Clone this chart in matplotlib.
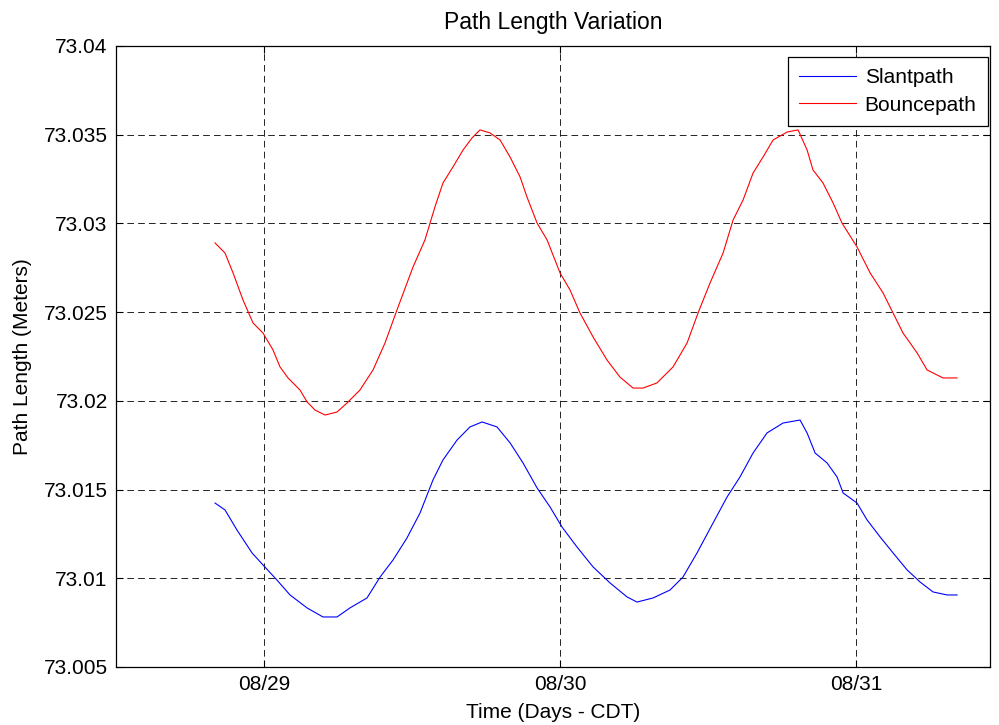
import matplotlib
matplotlib.use("Agg")
import matplotlib.pyplot as plt
import matplotlib.dates as mdates
import pandas as pd

# hours relative to 08/29 00:00 (CDT), values in meters
T0 = pd.Timestamp("2010-08-29 00:00")

bounce_hours = [-3.97, -3.16, -2.51, -1.70, -0.89, -0.08, 0.73, 1.30, 1.95, 2.92,
                3.49, 4.14, 4.95, 5.92, 6.73, 7.78, 8.84, 9.81, 10.78, 12.08,
                13.05, 13.86, 14.51, 15.32, 16.14, 16.86, 17.51, 18.32, 19.14, 19.95,
                20.76, 21.32, 22.14, 22.95, 24.00, 24.81, 25.62, 26.68, 27.81, 28.86,
                29.92, 30.73, 31.86, 33.16, 34.30, 35.19, 36.16, 37.22, 38.03, 38.84,
                39.65, 40.46, 41.27, 42.41, 43.30, 44.03, 44.51, 45.32, 46.14, 46.86,
                48.08, 49.14, 50.19, 51.00, 51.81, 52.95, 53.76, 55.05, 56.19]
bounce_len = [73.02890, 73.02833, 73.02721, 73.02568, 73.02439, 73.02382, 73.02287, 73.02191, 73.02129, 73.02061,
              73.01994, 73.01948, 73.01920, 73.01937, 73.01988, 73.02061, 73.02174, 73.02326, 73.02512, 73.02754,
              73.02907, 73.03093, 73.03228, 73.03318, 73.03414, 73.03481, 73.03527, 73.03510, 73.03470, 73.03374,
              73.03262, 73.03149, 73.03002, 73.02907, 73.02721, 73.02625, 73.02495, 73.02360, 73.02230, 73.02134,
              73.02072, 73.02072, 73.02101, 73.02191, 73.02326, 73.02495, 73.02664, 73.02833, 73.03019, 73.03132,
              73.03284, 73.03374, 73.03470, 73.03515, 73.03527, 73.03414, 73.03301, 73.03228, 73.03115, 73.03002,
              73.02867, 73.02721, 73.02608, 73.02495, 73.02382, 73.02270, 73.02174, 73.02129, 73.02129]

slant_hours = [-3.97, -3.16, -2.19, -0.97, -0.08, 1.05, 2.11, 3.49, 4.78, 5.92,
               6.97, 8.35, 9.41, 10.46, 11.59, 12.65, 13.70, 14.51, 15.65, 16.70,
               17.68, 18.89, 19.95, 21.00, 22.14, 23.19, 24.16, 25.38, 26.68, 28.05,
               29.43, 30.24, 31.54, 32.92, 33.97, 35.11, 36.41, 37.54, 38.59, 39.65,
               40.78, 42.08, 43.46, 44.03, 44.68, 45.65, 46.46, 46.95, 48.08, 48.89,
               49.95, 51.00, 52.14, 53.19, 54.24, 55.38, 56.19]
slant_len = [73.01424, 73.01385, 73.01272, 73.01143, 73.01075, 73.00990, 73.00906, 73.00833, 73.00782, 73.00782,
             73.00833, 73.00889, 73.01007, 73.01103, 73.01227, 73.01368, 73.01554, 73.01667, 73.01779, 73.01853,
             73.01881, 73.01853, 73.01763, 73.01650, 73.01509, 73.01402, 73.01289, 73.01176, 73.01064, 73.00974,
             73.00895, 73.00866, 73.00889, 73.00934, 73.01007, 73.01143, 73.01312, 73.01458, 73.01571, 73.01706,
             73.01819, 73.01875, 73.01892, 73.01819, 73.01706, 73.01650, 73.01571, 73.01481, 73.01424, 73.01329,
             73.01233, 73.01143, 73.01047, 73.00979, 73.00923, 73.00906, 73.00906]

y_ticks = [73.005, 73.01, 73.015, 73.02, 73.025, 73.03, 73.035, 73.04]
y_tick_labels = ["73.005", "73.01", "73.015", "73.02", "73.025", "73.03", "73.035", "73.04"]

plt.rcParams["font.family"] = ["Liberation Sans", "DejaVu Sans"]
plt.rcParams["font.size"] = 15

fig = plt.figure(figsize=(9.99, 7.25), dpi=100)
ax = fig.add_axes([0.1161, 0.08, 0.8749, 0.8566])

slant_t = T0 + pd.to_timedelta(slant_hours, unit="h")
bounce_t = T0 + pd.to_timedelta(bounce_hours, unit="h")
ax.plot(slant_t, slant_len, color="#0000ff", lw=0.8, label="Slantpath")
ax.plot(bounce_t, bounce_len, color="#ff0000", lw=0.8, label="Bouncepath")

ax.set_xlim(T0 - pd.Timedelta(hours=12), T0 + pd.Timedelta(hours=58.86))
ax.set_ylim(73.005, 73.04)
ax.set_yticks(y_ticks)
ax.set_yticklabels(y_tick_labels)
ax.xaxis.set_major_locator(mdates.DayLocator())
ax.xaxis.set_major_formatter(mdates.DateFormatter("%m/%d"))

ax.grid(True, color="black", lw=0.6, linestyle=(0, (8, 5)))
ax.tick_params(direction="in", length=5, width=0.8, top=True, right=True, pad=6)
for sp in ax.spines.values():
    sp.set_linewidth(0.9)

ax.set_title("Path Length Variation", fontsize=16.5, pad=12)
ax.set_xlabel("Time (Days - CDT)", fontsize=15, labelpad=6)
ax.set_ylabel("Path Length (Meters)", fontsize=15, labelpad=8)

leg = ax.legend(loc="upper right", bbox_to_anchor=(0.9977, 0.9823), borderaxespad=0,
                fancybox=False, framealpha=1, edgecolor="black", fontsize=15,
                handlelength=2.75, handletextpad=0.4, borderpad=0.55,
                labelspacing=0.4)
leg.get_frame().set_linewidth(0.9)

fig.savefig("out.png", dpi=100)
